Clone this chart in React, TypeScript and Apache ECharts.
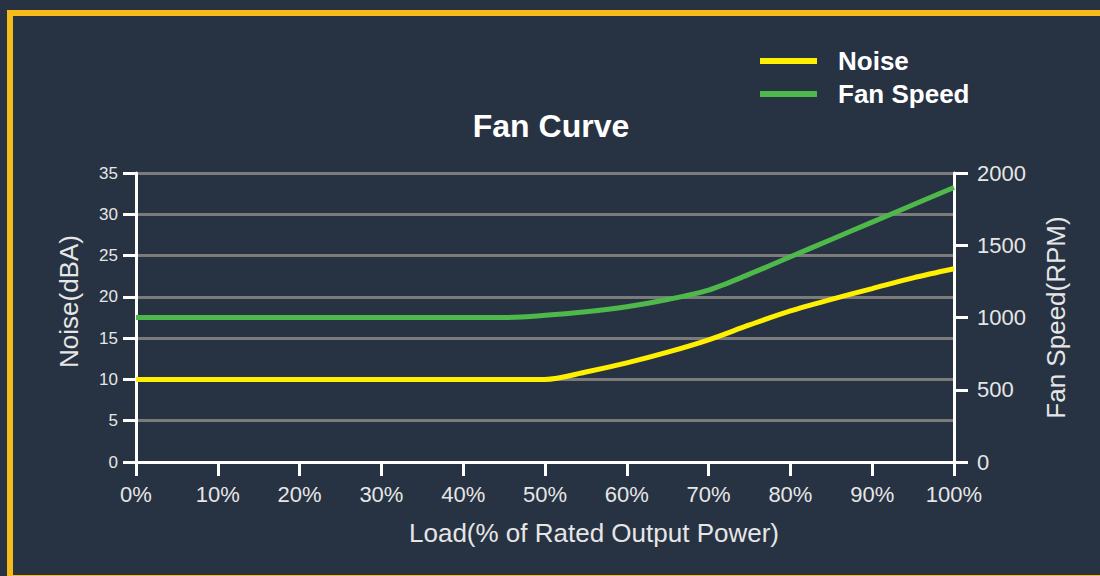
import React, { useEffect, useRef } from "react";
import * as echarts from "echarts";

const loadPct = [0, 10, 20, 30, 40, 45, 50, 55, 60, 65, 70, 75, 80, 85, 90, 95, 100];
const noiseDBA = [10, 10, 10, 10, 10, 10, 10, 10.9, 12.0, 13.3, 14.8, 16.6, 18.3, 19.7, 21.0, 22.3, 23.4];
const fanRPM = [1000, 1000, 1000, 1000, 1000, 1000, 1015, 1040, 1075, 1125, 1190, 1300, 1420, 1540, 1660, 1780, 1900];
const xTicks = { min: 0, max: 100, interval: 10 };
const noiseTicks = { min: 0, max: 35, interval: 5 };
const rpmTicks = { min: 0, max: 2000, interval: 500 };

const FONT = "'Liberation Sans', Arial, Helvetica, sans-serif";
const TEXT = "#e6e6e6";

export default function App() {
  const ref = useRef<HTMLDivElement>(null);
  useEffect(() => {
    if (!ref.current) return;
    const chart = echarts.init(ref.current, null, { renderer: "svg" });
    const noiseData = loadPct.map((x, i) => [x, noiseDBA[i]]);
    const fanData = loadPct.map((x, i) => [x, fanRPM[i]]);
    chart.setOption({
      animation: false,
      backgroundColor: "#273343",
      textStyle: { fontFamily: FONT },
      title: {
        text: "Fan Curve",
        left: 546,
        textAlign: "center",
        top: 105,
        textStyle: { color: "#ffffff", fontSize: 32, fontWeight: "bold", fontFamily: FONT },
      },
      legend: {
        orient: "vertical",
        left: 760,
        top: 48,
        padding: 0,
        itemGap: 7,
        itemWidth: 57,
        itemHeight: 6,
        icon: "rect",
        textStyle: { color: "#ffffff", fontSize: 26, fontWeight: "bold", fontFamily: FONT, padding: [0, 0, 0, 16] },
        data: ["Noise", "Fan Speed"],
      },
      graphic: [
        {
          type: "rect",
          shape: { x: 10, y: 13, width: 1200, height: 565 },
          style: { fill: "none", stroke: "#f6bb1a", lineWidth: 6 },
          silent: true,
          z: 100,
        },
      ],
      grid: { left: 136, right: 146, top: 173, bottom: 114, containLabel: false },
      xAxis: {
        type: "value",
        ...xTicks,
        name: "Load(% of Rated Output Power)",
        nameLocation: "middle",
        nameGap: 58,
        nameTextStyle: { color: TEXT, fontSize: 26, fontFamily: FONT, padding: [0, 0, 0, 98] },
        axisLine: { show: true, lineStyle: { color: "#ffffff", width: 3 } },
        axisTick: { show: true, length: 14, lineStyle: { color: "#ffffff", width: 3 } },
        axisLabel: { color: TEXT, fontSize: 22, margin: 21, formatter: "{value}%", fontFamily: FONT },
        splitLine: { show: false },
      },
      yAxis: [
        {
          type: "value",
          ...noiseTicks,
          position: "left",
          name: "Noise(dBA)",
          nameLocation: "middle",
          nameGap: 54,
          nameTextStyle: { color: TEXT, fontSize: 26, fontFamily: FONT, padding: [0, 0, 0, 32] },
          axisLine: { show: true, lineStyle: { color: "#ffffff", width: 3 } },
          axisTick: { show: true, length: 13, lineStyle: { color: "#ffffff", width: 3 } },
          axisLabel: { color: TEXT, fontSize: 17, margin: 18, fontFamily: FONT },
          splitLine: { show: true, lineStyle: { color: "#7b7b7b", width: 3 } },
        },
        {
          type: "value",
          ...rpmTicks,
          position: "right",
          name: "Fan Speed(RPM)",
          nameLocation: "middle",
          nameGap: 89,
          nameTextStyle: { color: TEXT, fontSize: 26, fontFamily: FONT },
          axisLine: { show: true, lineStyle: { color: "#ffffff", width: 3 } },
          axisTick: { show: true, length: 14, lineStyle: { color: "#ffffff", width: 3 } },
          axisLabel: { color: TEXT, fontSize: 22, margin: 23, fontFamily: FONT, formatter: (v: number) => String(v) },
          splitLine: { show: false },
        },
      ],
      series: [
        {
          name: "Noise",
          type: "line",
          yAxisIndex: 0,
          data: noiseData,
          symbol: "none",
          smooth: 0.3,
          color: "#fff000",
          lineStyle: { color: "#fff000", width: 5 },
          z: 3,
        },
        {
          name: "Fan Speed",
          type: "line",
          yAxisIndex: 1,
          data: fanData,
          symbol: "none",
          smooth: 0.3,
          color: "#4fb84b",
          lineStyle: { color: "#4fb84b", width: 5 },
          z: 3,
        },
      ],
    });
    return () => chart.dispose();
  }, []);
  return (
    <div
      ref={ref}
      style={{ position: "fixed", left: 0, top: 0, width: 1100, height: 576 }}
    />
  );
}
